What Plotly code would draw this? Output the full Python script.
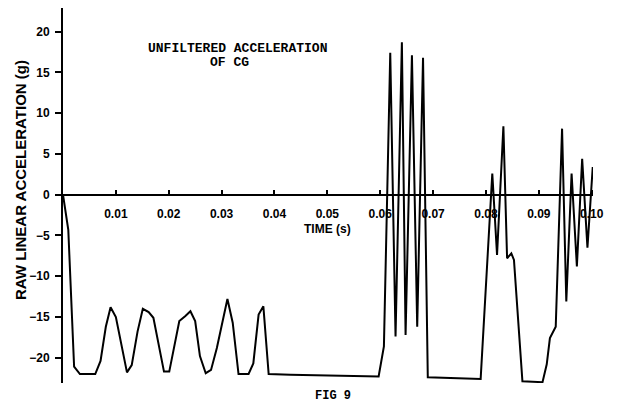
import plotly.graph_objects as go

# Time (s) and raw linear acceleration (g)
time_s = [0, 0.0010, 0.0021, 0.0032, 0.0061, 0.0071, 0.0081, 0.0090, 0.0100, 0.0111,
          0.0121, 0.0130, 0.0141, 0.0151, 0.0162, 0.0171, 0.0182, 0.0191, 0.0201, 0.0210,
          0.0220, 0.0231, 0.0241, 0.0250, 0.0259, 0.0270, 0.0280, 0.0291, 0.0302, 0.0311,
          0.0321, 0.0332, 0.0351, 0.0360, 0.0370, 0.0379, 0.0389, 0.0430, 0.0597, 0.0607,
          0.0619, 0.0629, 0.0641, 0.0648, 0.0660, 0.0670, 0.0681, 0.0690, 0.0790, 0.0812,
          0.0821, 0.0833, 0.0840, 0.0848, 0.0853, 0.0869, 0.0907, 0.0915, 0.0921, 0.0932,
          0.0944, 0.0952, 0.0962, 0.0972, 0.0982, 0.0992, 0.1002]
accel_g = [0, -4.3, -21.1, -22.0, -22.0, -20.4, -16.2, -13.8, -15.0, -18.6,
           -21.8, -20.9, -16.8, -14.0, -14.4, -15.1, -18.6, -21.7, -21.7, -18.6,
           -15.5, -14.9, -14.3, -15.5, -19.8, -21.9, -21.5, -18.8, -15.7, -12.8,
           -15.7, -22.0, -22.0, -20.7, -14.7, -13.7, -22.0, -22.1, -22.3, -18.6,
           17.4, -17.4, 18.7, -17.2, 17.1, -16.2, 16.8, -22.4, -22.6, 2.6,
           -7.4, 8.4, -7.8, -7.2, -8.0, -22.9, -23.0, -20.8, -17.6, -16.2,
           8.1, -13.1, 2.6, -8.8, 4.4, -6.5, 3.4]

x_tick_vals = [0.01, 0.02, 0.03, 0.04, 0.05, 0.06, 0.07, 0.08, 0.09, 0.10]
x_tick_text = ["0.01", "0.02", "0.03", "0.04", "0.05", "0.06", "0.07", "0.08", "0.09", "0.10"]
y_tick_vals = [-20, -15, -10, -5, 0, 5, 10, 15, 20]

sans = "Liberation Sans, Arial, sans-serif"
mono = "Liberation Mono, Courier New, monospace"
tick_font = dict(family=sans, size=12, color="black", weight="bold")

fig = go.Figure()
fig.add_trace(go.Scatter(x=time_s, y=accel_g, mode="lines",
                         line=dict(color="black", width=2), showlegend=False))

yr = [-23.1, 22.9]
fig.update_layout(
    width=621, height=405,
    margin=dict(l=63, r=28, t=8, b=22),
    paper_bgcolor="white", plot_bgcolor="white",
    xaxis=dict(range=[0, 0.10025], anchor="free", position=(0 - yr[0]) / (yr[1] - yr[0]),
               showline=True, linecolor="black", linewidth=2,
               ticks="inside", ticklen=4, tickwidth=1.5, tickcolor="black",
               tickvals=x_tick_vals, ticktext=x_tick_text, tickfont=tick_font,
               ticklabelstandoff=8, showgrid=False, zeroline=False),
    yaxis=dict(range=yr, showline=True, linecolor="black", linewidth=2,
               ticks="outside", ticklen=6, tickwidth=2, tickcolor="black",
               tickvals=y_tick_vals, tickfont=tick_font, ticklabelstandoff=3,
               showgrid=False, zeroline=False),
    annotations=[
        dict(text="RAW LINEAR ACCELERATION (g)", textangle=-90, xref="paper", yref="paper",
             x=(20 - 63) / 530, y=(405 - 22 - 180) / 375, xanchor="center", yanchor="middle",
             showarrow=False, font=dict(family=sans, size=15, color="black", weight="bold")),
        dict(text="TIME (s)", xref="x", yref="paper", x=0.05, y=(405 - 22 - 229) / 375,
             xanchor="center", yanchor="middle", showarrow=False,
             font=dict(family=sans, size=12, color="black", weight="bold")),
        dict(text="UNFILTERED ACCELERATION", xref="paper", yref="paper",
             x=(237.5 - 63) / 530, y=(405 - 22 - 48) / 375, xanchor="center", yanchor="middle",
             showarrow=False, font=dict(family=mono, size=13, color="black", weight="bold")),
        dict(text="OF CG", xref="paper", yref="paper",
             x=(229 - 63) / 530, y=(405 - 22 - 62) / 375, xanchor="center", yanchor="middle",
             showarrow=False, font=dict(family=mono, size=13, color="black", weight="bold")),
        dict(text="FIG 9", xref="paper", yref="paper",
             x=(333 - 63) / 530, y=(405 - 22 - 396) / 375, xanchor="center", yanchor="middle",
             showarrow=False, font=dict(family=mono, size=12, color="black", weight="bold")),
    ],
)

fig.write_html("out.html")
